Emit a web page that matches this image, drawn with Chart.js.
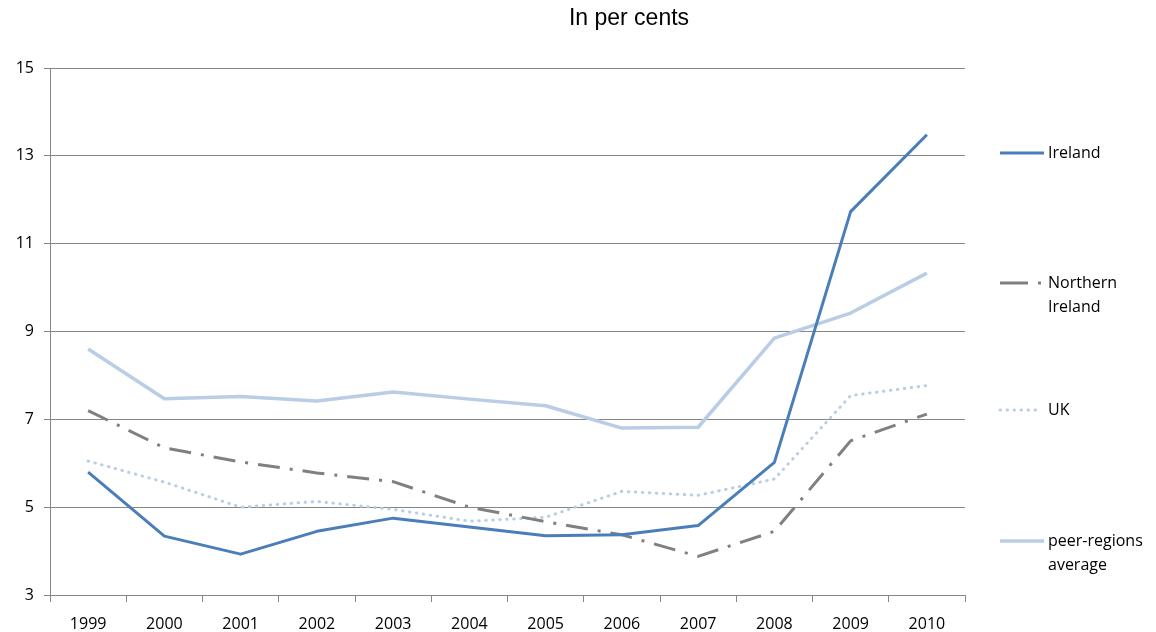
<!DOCTYPE html>
<html>
<head>
    <title>Unemployment rate</title>
    <script src="https://cdn.jsdelivr.net/npm/chart.js"></script>
    <style>
        body { margin: 0; background: #fff; }
        .chart-container { width: 1156px; height: 632px; position: relative; }
    </style>
</head>
<body>
<div class="chart-container">
    <canvas id="rateChart"></canvas>
</div>

<script>
    const years = ['1999', '2000', '2001', '2002', '2003', '2004', '2005', '2006', '2007', '2008', '2009', '2010'];
    const ireland = [5.8, 4.34, 3.93, 4.45, 4.75, 4.55, 4.35, 4.37, 4.58, 6.02, 11.73, 13.48];
    const northernIreland = [7.2, 6.35, 6.03, 5.78, 5.58, 5.0, 4.67, 4.37, 3.88, 4.45, 6.51, 7.12];
    const uk = [6.05, 5.57, 5.0, 5.13, 4.95, 4.68, 4.77, 5.36, 5.27, 5.64, 7.54, 7.77];
    const peerAverage = [8.6, 7.47, 7.52, 7.42, 7.62, 7.46, 7.31, 6.8, 6.82, 8.85, 9.42, 10.33];
    const yTicks = [3, 5, 7, 9, 11, 13, 15];

    const font = "'Open Sans', sans-serif";

    // legend entries stacked down the right side, each with its own text lines
    const legendItems = [
        { lines: ['Ireland'], y: 153 },
        { lines: ['Northern', 'Ireland'], y: 283, dash: [28, 10, 3, 10] },
        { lines: ['UK'], y: 410 },
        { lines: ['peer-regions', 'average'], y: 541 }
    ];

    const sideLegend = {
        id: 'sideLegend',
        afterDraw(chart) {
            const ctx = chart.ctx;
            ctx.save();
            // title
            ctx.fillStyle = '#000';
            ctx.font = "23px 'Liberation Sans', Arial, sans-serif";
            ctx.textAlign = 'center';
            ctx.textBaseline = 'middle';
            ctx.fillText('In per cents', 629, 19);

            chart.data.datasets.forEach((ds, i) => {
                const item = legendItems[i];
                ctx.strokeStyle = ds.borderColor;
                ctx.lineWidth = ds.borderWidth;
                ctx.lineCap = ds.borderCapStyle || 'butt';
                ctx.setLineDash(item.dash || ds.borderDash || []);
                ctx.beginPath();
                ctx.moveTo(1000, item.y);
                ctx.lineTo(ds.legendEnd || 1044, item.y);
                ctx.stroke();
                ctx.setLineDash([]);
                ctx.fillStyle = '#000';
                ctx.font = '16px ' + font;
                ctx.textAlign = 'left';
                item.lines.forEach((t, k) => ctx.fillText(t, 1048, item.y + k * 24));
            });
            ctx.restore();
        }
    };

    const ctx = document.getElementById('rateChart').getContext('2d');
    new Chart(ctx, {
        type: 'line',
        data: {
            labels: years,
            datasets: [
                {
                    label: 'Ireland',
                    data: ireland,
                    borderColor: '#4a7ebb',
                    borderWidth: 3
                },
                {
                    label: 'Northern Ireland',
                    data: northernIreland,
                    borderColor: '#808080',
                    borderWidth: 3,
                    borderDash: [22, 10, 3, 10],
                    legendEnd: 1043
                },
                {
                    label: 'UK',
                    data: uk,
                    borderColor: '#b9cde5',
                    borderWidth: 3,
                    borderCapStyle: 'round',
                    borderDash: [0.5, 6.5],
                    legendEnd: 1040
                },
                {
                    label: 'peer-regions average',
                    data: peerAverage,
                    borderColor: '#b9cde5',
                    borderWidth: 3.5
                }
            ]
        },
        options: {
            responsive: true,
            maintainAspectRatio: false,
            animation: false,
            elements: {
                point: { radius: 0 },
                line: { tension: 0, borderJoinStyle: 'round' }
            },
            layout: { padding: { top: 68, right: 191, left: 0, bottom: 0 } },
            plugins: {
                legend: { display: false },
                tooltip: { enabled: false }
            },
            scales: {
                x: {
                    offset: true,
                    grid: {
                        offset: true,
                        drawOnChartArea: false,
                        color: '#868686',
                        tickLength: 7
                    },
                    border: { color: '#868686' },
                    ticks: {
                        color: '#000',
                        font: { family: font, size: 16 },
                        padding: 13,
                        maxRotation: 0
                    },
                    afterFit(scale) { scale.height = 37; }
                },
                y: {
                    min: 3,
                    max: 15,
                    afterBuildTicks(scale) {
                        scale.ticks = yTicks.map(v => ({ value: v }));
                    },
                    grid: { color: '#868686', tickLength: 6 },
                    border: { color: '#868686' },
                    ticks: {
                        color: '#000',
                        font: { family: font, size: 16 },
                        padding: 10
                    },
                    afterFit(scale) { scale.width = 50; }
                }
            }
        },
        plugins: [sideLegend]
    });
</script>
</body>
</html>
